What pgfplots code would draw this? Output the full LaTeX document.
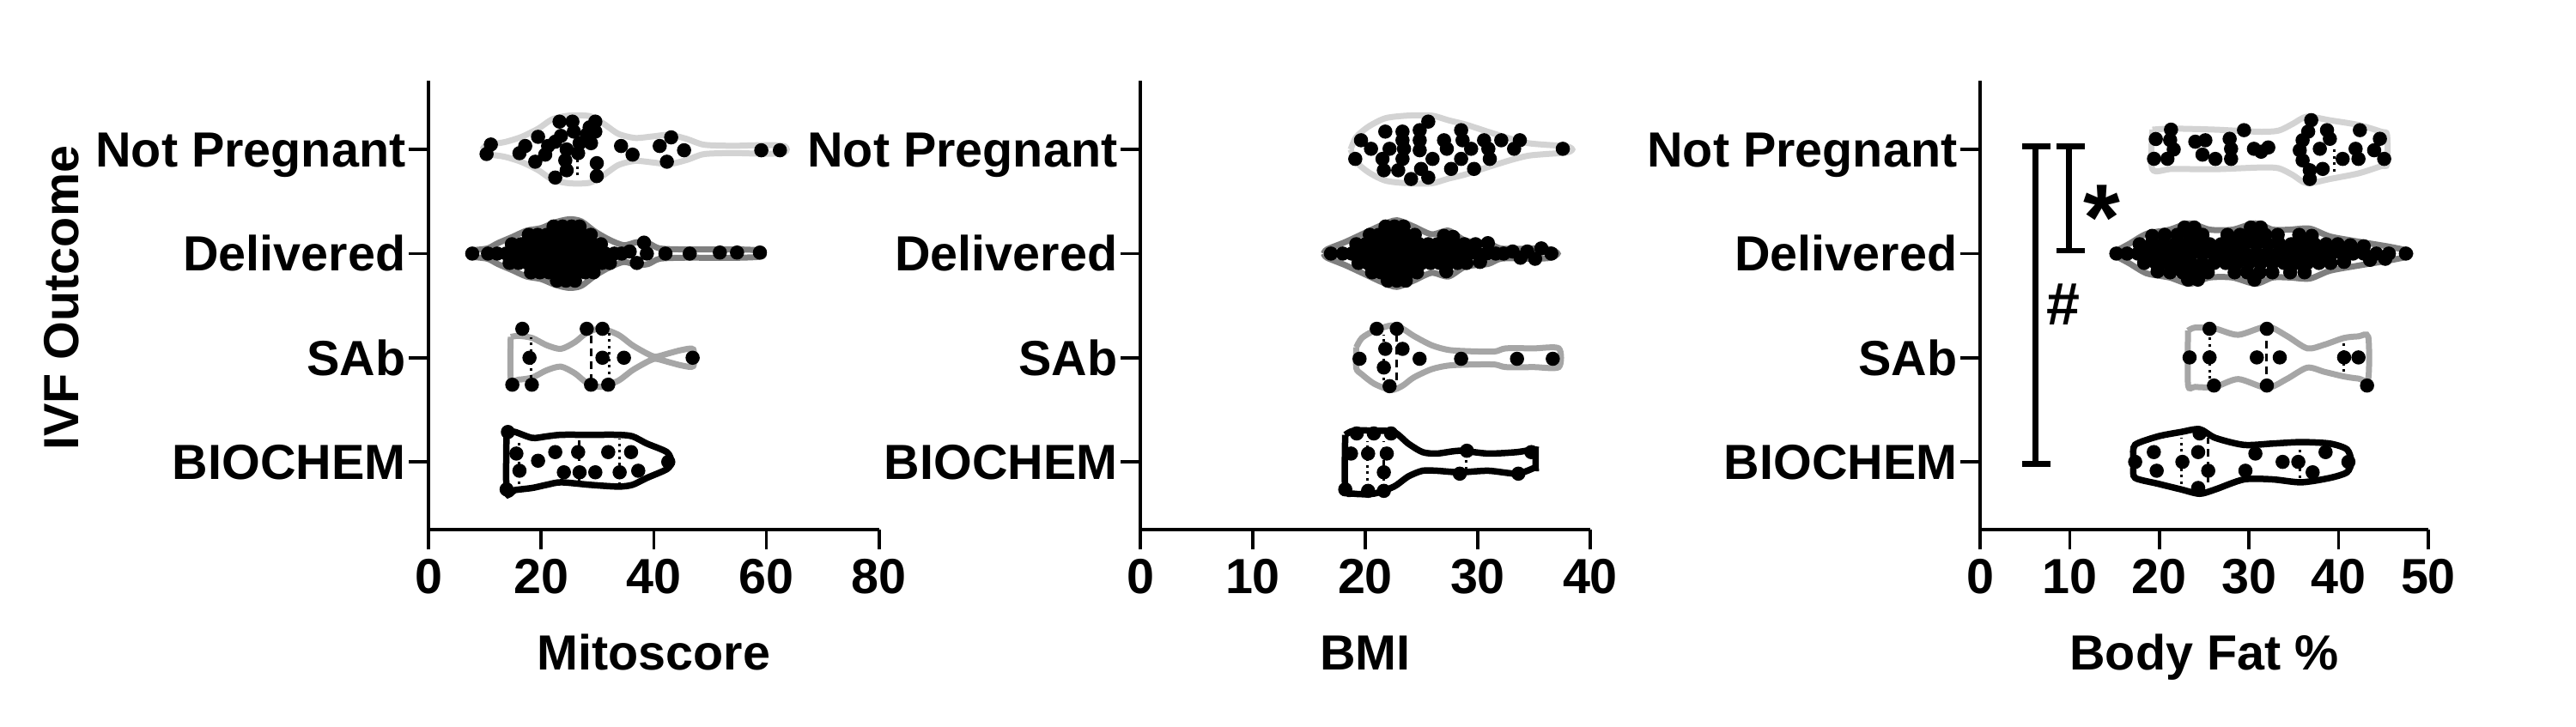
\documentclass[border=0pt]{standalone}
\usepackage{fontspec}
\setmainfont{Liberation Sans}
\usepackage{pgfplots}
\pgfplotsset{compat=1.18}
\definecolor{npcol}{HTML}{D3D3D3}
\definecolor{delcol}{HTML}{7F7F7F}
\definecolor{sabcol}{HTML}{A6A6A6}
\pgfplotsset{
  myaxis/.style={
    scale only axis, height=104.6pt,
    ymin=-0.65, ymax=3.66,
    axis x line*=bottom, axis y line*=left,
    axis line style={line width=0.7pt,-},
    tick style={line width=0.7pt, black},
    tick align=outside,
    major tick length=4.6pt,
    ytick={0,1,2,3},
    yticklabels={BIOCHEM,SAb,Delivered,Not Pregnant},
    tick label style={font=\fontsize{11.5}{13}\selectfont\bfseries},
    yticklabel style={anchor=base east, yshift=-4.1pt, xshift=2.8pt},
    xticklabel style={yshift=1.2pt},
    /pgf/number format/assume math mode=true,
    every axis x label/.style={at={(axis description cs:0.5,-0.3117)}, anchor=base, font=\fontsize{11.5}{13}\selectfont\bfseries},
    every axis y label/.style={at={(axis description cs:-0.813,0.516)}, rotate=90, anchor=center, font=\fontsize{11.5}{13}\selectfont\bfseries},
    clip=false,
  },
  dots/.style={only marks, mark=*, mark size=1.45pt, black},
  vio/.style={smooth, tension=0.45, line width=1.4pt, draw=#1},
  med/.style={black, line width=0.6pt, dash pattern=on 1.8pt off 1.2pt},
  qrt/.style={black, line width=0.6pt, dash pattern=on 0.6pt off 0.9pt},
  brk/.style={black, line width=1.3pt},
}
\begin{document}
\begin{tikzpicture}
% ---------------- Panel 1: Mitoscore ----------------
\begin{axis}[myaxis, at={(99.8pt,45.8pt)}, anchor=south west, width=105pt,
  xmin=0, xmax=80, xtick={0,20,40,60,80}, xlabel={Mitoscore}, ylabel={IVF Outcome}]
\addplot[vio=npcol] coordinates {(9.6,3) (10,3.03) (11,3.05) (13.5,3.07) (16.5,3.12) (19.5,3.2) (22,3.29) (25,3.325) (28.6,3.32) (31,3.25) (33.7,3.15) (36.7,3.11) (39.8,3.125) (42.8,3.14) (45.9,3.1) (48.9,3.045) (54,3.035) (58.1,3.04) (61.6,3.04) (63.2,3.03) (63.6,3) (63.2,2.97) (61.6,2.96) (58.1,2.96) (54,2.965) (48.9,2.955) (45.9,2.9) (42.8,2.86) (39.8,2.875) (36.7,2.89) (33.7,2.85) (31,2.75) (28.6,2.68) (25,2.675) (22,2.71) (19.5,2.8) (16.5,2.88) (13.5,2.93) (11,2.95) (10,2.97) (9.6,3)};
\addplot[vio=delcol] coordinates {(7.2,2) (7.8,2.03) (10.5,2.05) (12.3,2.1) (14.9,2.16) (17.4,2.22) (20,2.245) (22.5,2.3) (25,2.33) (27.1,2.31) (29.6,2.21) (32.2,2.13) (34.7,2.08) (37,2.11) (39,2.1) (41,2.05) (45,2.04) (50,2.04) (55,2.04) (59,2.03) (59.5,2) (59,1.97) (55,1.96) (50,1.96) (45,1.96) (41,1.95) (39,1.9) (37,1.89) (34.7,1.92) (32.2,1.87) (29.6,1.79) (27.1,1.69) (25,1.67) (22.5,1.7) (20,1.755) (17.4,1.78) (14.9,1.84) (12.3,1.9) (10.5,1.95) (7.8,1.97) (7.2,2)};
\addplot[vio=sabcol] coordinates {(14.6,1.2) (16,1.21) (18.4,1.19) (21,1.12) (23.5,1.085) (26,1.15) (28.1,1.24) (30.6,1.28) (33.7,1.22) (36.2,1.12) (38.8,1.04) (40.3,1.01) (42.5,1.04) (45,1.075) (47,1.08) (47,0.92) (45,0.925) (42.5,0.96) (40.3,0.99) (38.8,0.96) (36.2,0.88) (33.7,0.78) (30.6,0.72) (28.1,0.76) (26,0.85) (23.5,0.915) (21,0.88) (18.4,0.81) (16,0.79) (14.6,0.8) (14.6,1.2)};
\addplot[vio=black, line width=1.5pt] coordinates {(13.87,0.3) (15.4,0.287) (18.44,0.23) (20.98,0.245) (23.52,0.26) (28.6,0.26) (33.68,0.26) (36.22,0.245) (38.76,0.176) (42.31,0.094) (43.1,0) (42.31,-0.07) (38.76,-0.154) (36.22,-0.22) (33.68,-0.237) (28.6,-0.22) (23.52,-0.196) (20.98,-0.22) (18.44,-0.25) (15.4,-0.27) (13.87,-0.29) (13.87,0.3)};
\addplot[med] coordinates {(28.85,0.77) (28.85,1.24)};
\addplot[qrt] coordinates {(18.2,0.81) (18.2,1.195)};
\addplot[qrt] coordinates {(32.15,0.78) (32.15,1.237)};
\addplot[med] coordinates {(26.7,-0.237) (26.7,0.23)};
\addplot[qrt] coordinates {(16.15,-0.21) (16.15,0.2)};
\addplot[qrt] coordinates {(33.9,-0.22) (33.9,0.22)};
\addplot[qrt] coordinates {(26.5,2.75) (26.5,3.0)};
% dots
\addplot[dots] coordinates {(11.07,3.047) (10.31,2.956) (16.15,2.964) (17.17,3.033) (19.45,3.121) (18.95,2.882) (20.72,2.95) (21.23,3.033) (22.5,3.074) (23.26,3.267) (23.52,3.13) (22.5,2.73) (24.28,2.895) (24.53,2.8) (25.55,3.267) (25.8,3.171) (26.56,2.964) (26.82,3.06) (24.53,3.0) (28.09,3.143) (28.6,3.212) (28.85,3.06) (29.61,3.267) (29.61,3.171) (29.87,2.868) (29.87,2.744) (34.18,3.033) (36.22,2.95) (41.04,3.033) (43.07,3.116) (42.31,2.882) (45.36,2.992) (59.07,2.992) (62.37,2.992)};
\addplot[dots] coordinates {(12.2,2) (13.8,2) (15.4,2) (17,2) (18.6,2) (20.2,2) (21.8,2) (23.4,2) (25,2) (26.6,2) (28.2,2) (29.8,2) (31.4,2) (33,2) (34.3,2)
 (14.8,2.09) (16.4,2.09) (18,2.09) (19.6,2.09) (21.2,2.09) (22.8,2.09) (24.4,2.09) (26,2.09) (27.6,2.09) (29.2,2.09) (30.6,2.09)
 (14.4,1.91) (16,1.91) (17.6,1.91) (19.2,1.91) (20.8,1.91) (22.4,1.91) (24,1.91) (25.6,1.91) (27.2,1.91) (28.8,1.91) (30.8,1.91) (32.2,1.91)
 (17.8,2.18) (19.4,2.18) (21,2.18) (22.6,2.18) (24.2,2.18) (25.8,2.18) (27.4,2.18) (28.8,2.18)
 (18.2,1.82) (19.8,1.82) (21.4,1.82) (23,1.82) (24.6,1.82) (26.2,1.82) (27.8,1.82) (29.3,1.82)
 (22.2,2.26) (23.8,2.26) (25.4,2.26) (26.8,2.26) (22.8,1.74) (24.4,1.74) (26,1.74)
 (7.77,2) (10.57,2) (42.06,2) (46.37,2) (51.71,2.01) (54.76,2.01) (58.82,2.01) (38.25,2.105) (38.76,2) (36.98,1.91) (35.71,2.02)};
\addplot[dots] coordinates {(16.66,1.278) (17.93,1) (14.88,0.741) (18.34,0.741) (28.09,1.278) (30.88,1.278) (30.88,1) (34.69,1) (28.85,0.741) (31.9,0.741) (46.88,1)};
\addplot[dots] coordinates {(16.15,-0.085) (19.45,0.011) (22.5,0.094) (26.56,0.094) (24.03,-0.1) (26.82,-0.1) (29.61,-0.1) (31.9,0.094) (33.93,-0.1) (35.96,0.094) (37.23,-0.085) (42.56,0) (14.1,0.287) (13.87,-0.264) (15.6,0.08)};
\end{axis}
% ---------------- Panel 2: BMI ----------------
\begin{axis}[myaxis, at={(265.6pt,45.8pt)}, anchor=south west, width=104.8pt,
  xmin=0, xmax=40, xtick={0,10,20,30,40}, xlabel={BMI}]
\addplot[vio=npcol] coordinates {(18.7,3) (19.2,3.12) (20.3,3.22) (21.8,3.3) (23.8,3.325) (25.9,3.325) (27.4,3.28) (28.9,3.24) (30.9,3.17) (33,3.1) (34.5,3.06) (36,3.045) (37.9,3.03) (38.4,3) (37.9,2.97) (36,2.955) (34.5,2.94) (33,2.9) (30.9,2.83) (28.9,2.76) (27.4,2.72) (25.9,2.675) (23.8,2.675) (21.8,2.7) (20.3,2.78) (19.2,2.88) (18.7,3)};
\addplot[vio=delcol] coordinates {(16.3,2) (16.6,2.04) (18.2,2.11) (19.8,2.19) (21.5,2.275) (22.8,2.32) (24.3,2.26) (25.9,2.185) (27.4,2.22) (28.9,2.125) (30.9,2.1) (32,2.05) (33.5,2.045) (35,2.05) (36.5,2.04) (37.1,2) (36.5,1.96) (35,1.95) (33.5,1.955) (32,1.95) (30.9,1.9) (28.9,1.875) (27.4,1.78) (25.9,1.815) (24.3,1.74) (22.8,1.68) (21.5,1.725) (19.8,1.81) (18.2,1.89) (16.6,1.96) (16.3,2)};
\addplot[vio=sabcol] coordinates {(19.2,1.1) (19.7,1.19) (20.8,1.26) (22.3,1.31) (23.3,1.28) (24.3,1.21) (25.9,1.12) (27.4,1.075) (29.4,1.062) (31.5,1.06) (32.5,1.09) (35,1.09) (37.2,1.09) (37.2,0.91) (35,0.91) (32.5,0.91) (31.5,0.935) (29.4,0.935) (27.4,0.925) (25.9,0.89) (24.3,0.81) (23.3,0.73) (22.3,0.69) (20.8,0.75) (19.7,0.84) (19.2,0.9) (19.2,1.1)};
\addplot[vio=black, line width=1.5pt] coordinates {(18.22,0.26) (18.98,0.3) (20.76,0.3) (22.55,0.287) (23.82,0.176) (25.09,0.094) (26.36,0.08) (28.4,0.107) (30.94,0.08) (33.49,0.094) (35.01,0.12) (35.14,0.1) (35.14,-0.05) (35.01,-0.058) (33.49,-0.113) (30.94,-0.085) (28.4,-0.1) (26.36,-0.085) (25.09,-0.085) (23.82,-0.14) (22.55,-0.237) (20.76,-0.305) (18.98,-0.305) (18.22,-0.26) (18.22,0.26)};
\addplot[med] coordinates {(22.75,0.78) (22.75,1.3)};
\addplot[qrt] coordinates {(21.65,0.78) (21.65,1.22)};
\addplot[med] coordinates {(21.65,-0.18) (21.65,0.2)};
\addplot[qrt] coordinates {(20.2,-0.24) (20.2,0.2)};
\addplot[qrt] coordinates {(29.0,-0.07) (29.0,0.05)};
\addplot[dots] coordinates {(19.62,3.088) (19.11,2.909) (20.51,3.006) (21.53,2.909) (21.78,3.171) (21.65,2.8) (22.16,3.006) (22.93,2.8) (23.31,3.171) (23.31,3.088) (23.44,3.006) (23.31,2.909) (24.07,2.716) (24.84,3.185) (24.84,3.088) (24.84,2.992) (24.96,2.813) (25.6,3.267) (25.6,2.73) (25.98,2.909) (27,3.088) (27.25,3.006) (27.63,2.813) (28.52,3.185) (28.65,3.088) (28.52,2.909) (29.41,3.006) (29.67,2.813) (30.56,3.088) (30.94,3.006) (31.07,2.909) (32.09,3.088) (33.23,3.006) (33.74,3.088) (37.56,3.006)};
\addplot[dots] coordinates {(18,2) (18.8,2) (19.6,2) (20.4,2) (21.2,2) (22,2) (22.8,2) (23.6,2) (24.4,2) (25.2,2) (26,2) (26.8,2) (27.6,2) (28.4,2) (29.2,2) (30,2) (30.8,2) (31.6,2) (32.3,2)
 (19.2,2.09) (20,2.09) (20.8,2.09) (21.6,2.09) (22.4,2.09) (23.2,2.09) (24,2.09) (24.8,2.09) (25.6,2.09) (26.4,2.09) (27.2,2.09) (28,2.09) (28.8,2.09) (29.8,2.09) (30.9,2.1)
 (19.4,1.91) (20.2,1.91) (21,1.91) (21.8,1.91) (22.6,1.91) (23.4,1.91) (24.2,1.91) (25,1.91) (25.8,1.91) (26.6,1.91) (27.4,1.91) (28.2,1.91) (29,1.91) (30.2,1.92)
 (20.4,2.18) (21.2,2.18) (22,2.18) (22.8,2.18) (23.6,2.18) (24.4,2.18) (27,2.17) (27.8,2.16)
 (20.6,1.82) (21.4,1.82) (22.2,1.82) (23,1.82) (23.8,1.82) (24.6,1.82) (27.2,1.83)
 (21.8,2.26) (22.6,2.26) (23.4,2.26) (22,1.74) (22.8,1.74) (23.6,1.74)
 (16.95,2) (33.1,2.02) (34.4,2.02) (35.65,2.05) (36.54,2) (35.1,1.95) (33.8,1.96)};
\addplot[dots] coordinates {(21.02,1.278) (22.8,1.278) (21.78,1.085) (23.31,1.085) (19.49,0.99) (24.83,0.99) (21.65,0.906) (22.16,0.727) (28.52,0.99) (33.49,0.99) (36.67,0.99)};
\addplot[dots] coordinates {(19.24,0.273) (20.76,0.273) (22.29,0.273) (18.73,0.08) (20.25,0.08) (21.91,0.08) (21.65,-0.1) (18.22,-0.264) (20.25,-0.278) (21.65,-0.278) (29.03,0.107) (28.4,-0.113) (34.76,0.094) (33.61,-0.113)};
\end{axis}
% ---------------- Panel 3: Body Fat ----------------
\begin{axis}[myaxis, at={(461.2pt,45.8pt)}, anchor=south west, width=104.4pt,
  xmin=0, xmax=50, xtick={0,10,20,30,40,50}, xlabel={Body Fat \%}]
\addplot[vio=npcol] coordinates {(19.22,3.19) (21.46,3.2) (26.24,3.19) (31.03,3.17) (33.27,3.18) (34.87,3.245) (36.46,3.315) (39.02,3.28) (42.21,3.235) (44.76,3.17) (45.4,3.14) (45.4,2.86) (44.76,2.84) (42.21,2.77) (39.02,2.716) (36.46,2.675) (34.87,2.755) (33.27,2.82) (31.03,2.826) (26.24,2.81) (21.46,2.813) (19.22,2.81) (19.22,3.19)};
\addplot[vio=delcol] coordinates {(14.8,2) (15.07,2.02) (16.67,2.095) (18.58,2.19) (21.14,2.23) (23.37,2.29) (25.61,2.23) (28.16,2.23) (30.71,2.29) (32.63,2.23) (34.55,2.23) (36.78,2.24) (39.02,2.165) (42.21,2.115) (45.4,2.07) (47.64,2.03) (48,2) (47.64,1.97) (45.4,1.93) (42.21,1.885) (39.02,1.835) (36.78,1.76) (34.55,1.77) (32.63,1.77) (30.71,1.71) (28.16,1.77) (25.61,1.77) (23.37,1.71) (21.14,1.77) (18.58,1.81) (16.67,1.905) (15.07,1.98) (14.8,2)};
\addplot[vio=sabcol] coordinates {(23.2,1.26) (24,1.29) (26.2,1.28) (28.8,1.22) (32,1.3) (34.2,1.21) (36.5,1.09) (38.4,1.125) (40.6,1.19) (42.2,1.205) (43.3,1.2) (43.3,0.8) (42.2,0.8) (40.6,0.82) (38.4,0.865) (36.5,0.905) (34.2,0.795) (32,0.71) (28.8,0.795) (26.2,0.72) (24,0.72) (23.2,0.74) (23.2,1.26)};
\addplot[vio=black, line width=1.5pt] coordinates {(17.1,0.05) (17.3,0.165) (19.86,0.245) (22.41,0.287) (24.49,0.314) (26.25,0.23) (29.44,0.163) (32.63,0.176) (35.82,0.19) (39.02,0.176) (40.93,0.12) (41.41,0) (40.93,-0.1) (39.02,-0.154) (35.82,-0.196) (32.63,-0.168) (29.44,-0.168) (26.25,-0.264) (24.49,-0.306) (22.41,-0.264) (19.86,-0.21) (17.3,-0.154) (17.1,-0.05) (17.1,0.05)};
\addplot[qrt] coordinates {(39.5,2.79) (39.5,3.0)};
\addplot[med] coordinates {(31.99,0.72) (31.99,1.29)};
\addplot[qrt] coordinates {(25.6,0.8) (25.6,1.21)};
\addplot[qrt] coordinates {(40.6,0.865) (40.6,1.14)};
\addplot[med] coordinates {(25.45,-0.2) (25.45,0.23)};
\addplot[qrt] coordinates {(22.5,-0.21) (22.5,0.23)};
\addplot[qrt] coordinates {(35.66,-0.155) (35.66,0.12)};
% brackets
\addplot[brk] coordinates {(4.7,3.03) (7.85,3.03)};
\addplot[brk] coordinates {(6.2,3.03) (6.2,-0.02)};
\addplot[brk] coordinates {(4.7,-0.02) (7.85,-0.02)};
\addplot[brk] coordinates {(8.5,3.03) (11.7,3.03)};
\addplot[brk] coordinates {(9.9,3.03) (9.9,2.03)};
\addplot[brk] coordinates {(8.5,2.03) (11.7,2.03)};
\node[font=\fontsize{22}{24}\selectfont\bfseries, anchor=base, yshift=-12.3pt] at (axis cs:13.6,2.537) {*};
\node[font=\fontsize{14}{16}\selectfont\bfseries, anchor=center] at (axis cs:9.3,1.51) {\#};
% dots
\addplot[dots] coordinates {(19.6,3.1) (19.4,2.91) (20.9,2.91) (21.2,3.09) (21.3,3.19) (21.6,3.0) (24.01,3.074) (24.81,2.95) (25.13,3.088) (26.25,2.909) (27.84,3.102) (28,3.006) (28,2.909) (29.44,3.185) (30.55,3.006) (31.35,2.978) (32.15,3.019) (36.94,3.281) (36.6,3.171) (35.98,3.088) (35.66,2.992) (35.98,2.895) (36.78,2.8) (36.78,2.716) (37.9,3.006) (38.7,3.185) (39.02,3.102) (38.22,2.813) (40.45,2.909) (41.89,3.006) (42.37,3.185) (42.21,2.909) (44.6,3.102) (43.96,2.992) (45.08,2.909)};
\addplot[dots] coordinates {(15.2,2) (16.4,2) (17.6,2) (18.8,2) (20,2) (21.2,2) (22.4,2) (23.6,2) (24.8,2) (26,2) (27.2,2) (28.4,2) (29.6,2) (30.8,2) (32,2) (33.2,2) (34.4,2) (35.6,2) (36.8,2) (38,2) (39.2,2) (40.4,2) (41.6,2) (42.8,2) (44.2,2) (45.6,2) (47.5,2)
 (17.8,2.09) (19.1,2.09) (20.4,2.09) (21.7,2.09) (23,2.09) (24.3,2.09) (25.6,2.09) (26.9,2.09) (28.2,2.09) (29.5,2.09) (30.8,2.09) (32.1,2.09) (33.4,2.09) (34.7,2.09) (36,2.09) (37.3,2.09) (38.6,2.09) (39.9,2.09) (41.3,2.08) (42.8,2.07)
 (18.3,1.91) (19.6,1.91) (20.9,1.91) (22.2,1.91) (23.5,1.91) (24.8,1.91) (26.1,1.91) (27.4,1.91) (28.7,1.91) (30,1.91) (31.3,1.91) (32.6,1.91) (33.9,1.91) (35.2,1.91) (36.5,1.91) (37.8,1.91) (39.1,1.91) (40.6,1.92) (43.5,1.94) (45.2,1.95)
 (19.2,2.17) (20.6,2.18) (22,2.18) (23.4,2.18) (24.8,2.18) (27.6,2.18) (29,2.18) (30.4,2.18) (31.8,2.18) (33.2,2.18) (35.6,2.18) (37,2.17)
 (19.8,1.83) (21.2,1.82) (22.6,1.82) (24,1.82) (25.4,1.82) (28.4,1.82) (29.8,1.82) (31.2,1.82) (32.6,1.82) (34.6,1.82) (36.2,1.82)
 (22.8,2.25) (23.9,2.25) (30.2,2.25) (31.3,2.25) (23.2,1.75) (24.3,1.75) (30.6,1.75)};
\addplot[dots] coordinates {(25.6,1.278) (31.99,1.278) (23.37,1.003) (25.6,1.003) (30.87,1.003) (33.43,1.003) (40.61,1.003) (42.21,1.003) (26.09,0.733) (31.99,0.733) (43.17,0.733)};
\addplot[dots] coordinates {(17.3,0) (19.38,0.094) (19.7,-0.085) (22.57,0) (24.33,0.094) (24.49,0.273) (25.45,-0.085) (24.33,-0.25) (30.71,0.08) (29.6,-0.085) (33.75,0) (35.5,0) (37.1,-0.1) (38.54,0.094) (41.09,0)};
\end{axis}
\pgfresetboundingbox
\path[use as bounding box] (0,0) rectangle (600pt,169.2pt);
\end{tikzpicture}
\end{document}
